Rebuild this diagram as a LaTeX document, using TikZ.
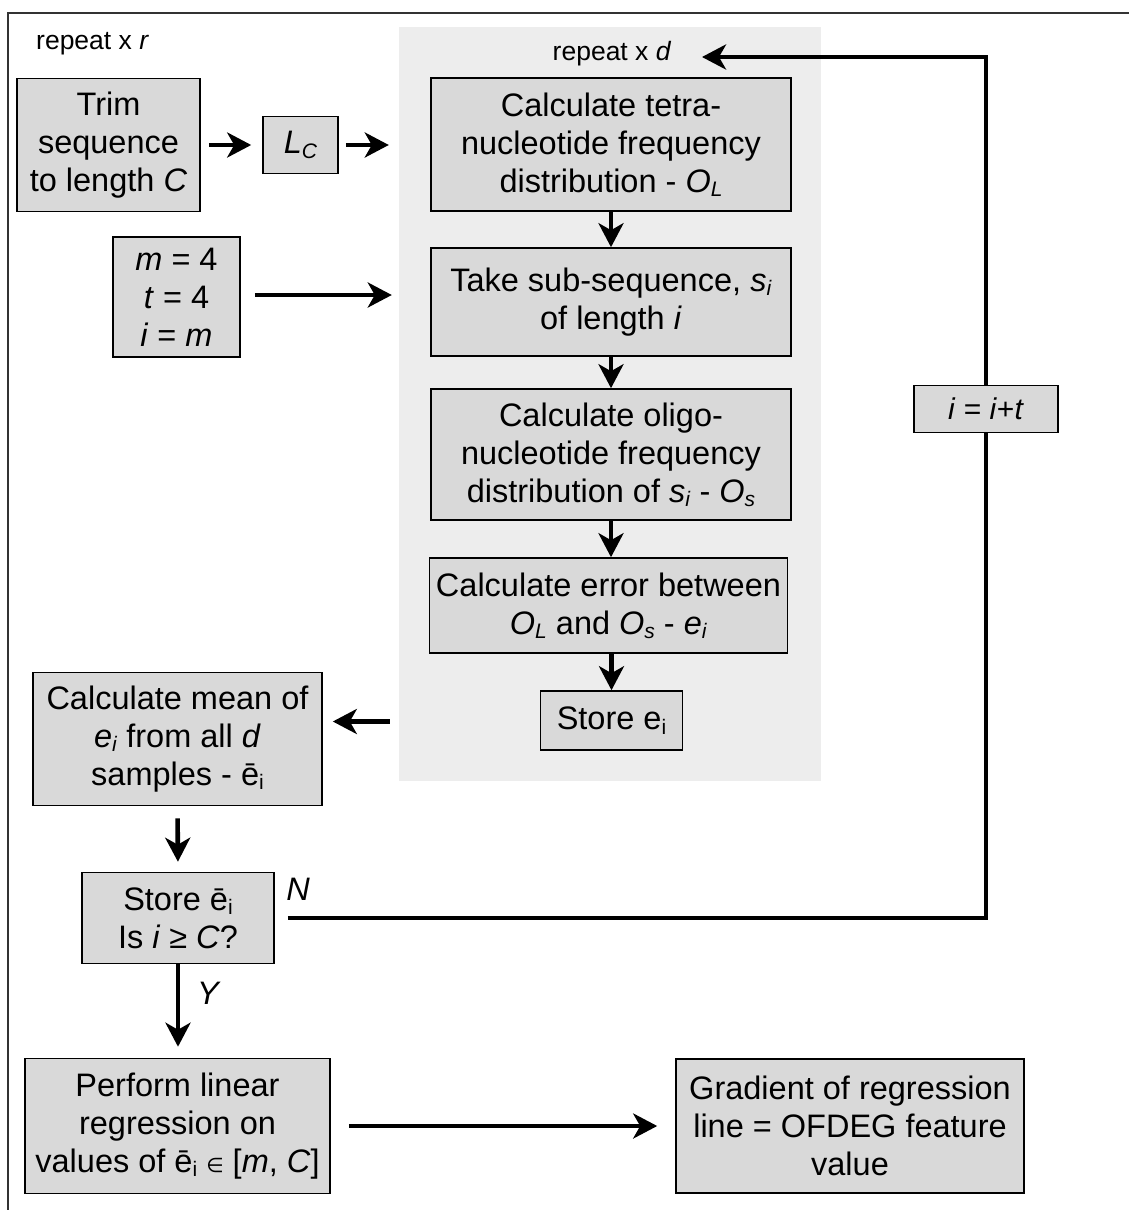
\documentclass[tikz,border=0pt]{standalone}
\usepackage{fontspec}
\setmainfont{Liberation Sans}
\newfontfamily\djv{DejaVu Sans}
\usetikzlibrary{arrows.meta}
\definecolor{boxgray}{HTML}{D9D9D9}
\definecolor{panelgray}{HTML}{EDEDED}
\newcommand\sbs[1]{\raisebox{-0.25ex}{\fontsize{21}{21}\selectfont #1}}
\newcommand\bigtxt{\fontsize{32.5}{38}\selectfont}
\begin{document}
\begin{tikzpicture}[x=1pt,y=-1pt,
  box/.style={draw=black, fill=boxgray, line width=1.6pt, align=center, inner sep=0pt, font=\bigtxt},
  arr/.style={line width=4.6pt, -{Stealth[length=24pt,width=25pt,inset=7pt]}},
  conn/.style={line width=4.6pt},
  lbl/.style={font=\fontsize{26.5}{26.5}\selectfont, inner sep=0pt},
]
\useasboundingbox (0,0) rectangle (1129,1210);
\draw[line width=2pt, black!80] (8,1210) -- (8,13) -- (1129,13);
\node[fill=panelgray, minimum width=422pt, minimum height=754pt, inner sep=0pt] (panel) at (610,404) {};

\node[lbl, anchor=west] (rr) at (36,44) {repeat x \textit{r}};
\node[lbl] (rd) at (612,54) {repeat x \textit{d}};
\coordinate (rdtip) at (702,57);

\node[box, minimum width=183pt, minimum height=133pt] (trim) at (108.5,145) {Trim\\sequence\\to length \textit{C}};
\node[box, minimum width=75pt, minimum height=57pt] (lc) at (300.5,145) {\textit{L}\sbs{\textit{C}}};
\node[box, minimum width=127pt, minimum height=120pt] (mti) at (176.5,297) {\textit{m} = 4\\\textit{t} = 4\\\textit{i} = \textit{m}};

\node[box, minimum width=360pt, minimum height=133pt] (b1) at (611,144.5) {Calculate tetra-\\nucleotide frequency\\distribution - \textit{O}\sbs{\textit{L}}};
\node[box, minimum width=360pt, minimum height=108pt] (b2) at (611,302) {Take sub-sequence, \textit{s}\sbs{\textit{i}}\\of length \textit{i}};
\node[box, minimum width=360pt, minimum height=131pt] (b3) at (611,454.5) {Calculate oligo-\\nucleotide frequency\\distribution of \textit{s}\sbs{\textit{i}} - \textit{O}\sbs{\textit{s}}};
\node[box, minimum width=358pt, minimum height=95pt] (b4) at (608.5,605.5) {Calculate error between\\\textit{O}\sbs{\textit{L}} and \textit{O}\sbs{\textit{s}} - \textit{e}\sbs{\textit{i}}};
\node[box, minimum width=142pt, minimum height=59pt] (b5) at (611.5,720.5) {Store e\sbs{i}};

\node[box, minimum width=289pt, minimum height=133pt] (mean) at (177.5,739) {Calculate mean of\\\textit{e}\sbs{\textit{i}} from all \textit{d}\\samples - ē\sbs{i}};
\node[box, minimum width=192pt, minimum height=91pt] (store) at (178,918) {Store ē\sbs{i}\\Is \textit{i} ≥ \textit{C}?};
\node[box, minimum width=305pt, minimum height=135pt] (reg) at (177.5,1126) {Perform linear\\regression on\\values of ē\sbs{i} {\djv\fontsize{20}{20}\selectfont ∈} [\textit{m}, \textit{C}]};
\node[box, minimum width=348pt, minimum height=134pt] (grad) at (850,1126) {Gradient of regression\\line = OFDEG feature\\value};
\node[box, minimum width=144pt, minimum height=47pt, font=\fontsize{30}{30}\selectfont] (inc) at (986,409) {\textit{i} = \textit{i}+\textit{t}};

\node[font=\bigtxt\itshape, inner sep=0pt] (nl) at (298,889) {N};
\node[font=\bigtxt\itshape, inner sep=0pt] (yl) at (208,993) {Y};

\draw[arr, shorten <=8pt, shorten >=11pt] (trim.east) -- (lc.west);
\draw[arr, shorten <=7pt, shorten >=10pt] (lc.east) -- (lc.east -| panel.west);
\draw[arr, shorten <=14pt, shorten >=7pt] ([yshift=2pt]mti.east) -- ([yshift=2pt]mti.east -| panel.west);

\draw[arr] (b1.south) -- (b1.south |- b2.north);
\draw[arr] (b2.south) -- (b2.south |- b3.north);
\draw[arr] (b3.south) -- (b3.south |- b4.north);
\draw[arr] (b4.south -| b5) -- (b5.north);

\coordinate (mtip) at ([yshift=17.5pt]mean.east);
\draw[arr, shorten <=9pt, shorten >=10pt] (mtip -| panel.west) -- (mtip);
\draw[arr, shorten <=12pt, shorten >=10pt] (mean.south) -- (store.north);
\draw[arr, shorten >=11pt] (store.south) -- (store.south |- reg.north);
\draw[arr, shorten <=18pt, shorten >=18pt] (reg.east) -- (reg.east -| grad.west);

\draw[conn, shorten <=13pt] (store.east) -| (inc.south);
\draw[arr] (inc.north) |- (rdtip);
\end{tikzpicture}
\end{document}
